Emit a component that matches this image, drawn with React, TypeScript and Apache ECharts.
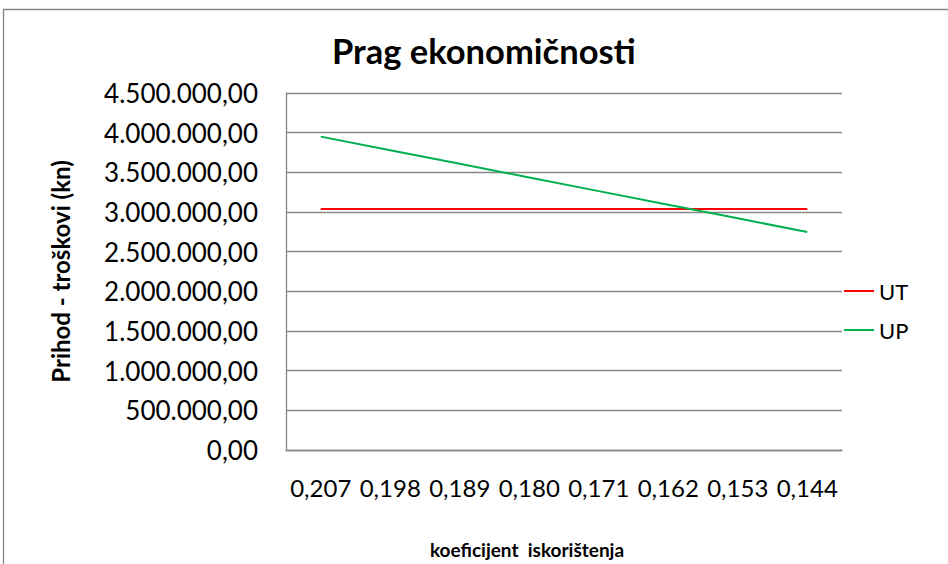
import React, { useEffect, useRef } from "react";
import * as echarts from "echarts";

const categories = ["0,207", "0,198", "0,189", "0,180", "0,171", "0,162", "0,153", "0,144"];
const utValues = [3037000, 3037000, 3037000, 3037000, 3037000, 3037000, 3037000, 3037000];
const upValues = [3950000, 3778000, 3607000, 3435000, 3263000, 3092000, 2920000, 2748000];
const seriesNames = ["UT", "UP"];
const chartTitle = "Prag ekonomičnosti";
const xAxisName = "koeficijent  iskorištenja";
const yAxisName = "Prihod - troškovi (kn)";

const FONT = "Lato, 'Noto Sans', sans-serif";

function formatHr(v: number): string {
  const fixed = v.toFixed(2);
  const [intPart, dec] = fixed.split(".");
  const withDots = intPart.replace(/\B(?=(\d{3})+(?!\d))/g, ".");
  return withDots + "," + dec;
}

export default function App() {
  const ref = useRef<HTMLDivElement>(null);
  useEffect(() => {
    document.body.style.margin = "0";
    if (!ref.current) return;
    const chart = echarts.init(ref.current, undefined, { renderer: "svg" });
    chart.setOption({
      animation: false,
      backgroundColor: "#ffffff",
      title: {
        text: chartTitle,
        left: 332,
        top: 33,
        padding: 0,
        textStyle: { fontFamily: FONT, fontWeight: "bold", fontSize: 34.5, color: "#000" },
      },
      graphic: [
        {
          type: "rect",
          shape: { x: 3.5, y: 9.5, width: 1200, height: 1200 },
          style: { fill: "none", stroke: "#868686", lineWidth: 1.3 },
          silent: true,
          z: -1,
        },
      ],
      legend: {
        orient: "vertical",
        left: 839,
        top: 275,
        itemWidth: 30,
        itemHeight: 14,
        itemGap: 17,
        icon: "path://M0,0 L30,0 L30,2 L0,2 Z",
        textStyle: { fontFamily: FONT, fontSize: 22, color: "#000" },
        data: seriesNames,
      },
      grid: { left: 286, right: 106, top: 93, bottom: 113 },
      xAxis: {
        type: "category",
        data: categories,
        boundaryGap: true,
        axisLine: { show: true, lineStyle: { color: "#868686", width: 1.3 } },
        axisTick: { show: false },
        axisLabel: { interval: 0, margin: 25, fontFamily: FONT, fontSize: 24, color: "#000" },
        name: xAxisName,
        nameLocation: "middle",
        nameGap: 90,
        nameTextStyle: { fontFamily: FONT, fontWeight: "bold", fontSize: 19, color: "#000", padding: [0, 74, 0, 0] },
      },
      yAxis: {
        type: "value",
        min: 0,
        max: 4500000,
        interval: 500000,
        axisLine: { show: true, lineStyle: { color: "#868686", width: 1.3 } },
        axisTick: { show: false },
        splitLine: { show: true, lineStyle: { color: "#868686", width: 1.3 } },
        axisLabel: { margin: 28, fontFamily: FONT, fontSize: 26, color: "#000", formatter: (v: number) => formatHr(v) },
        name: yAxisName,
        nameLocation: "middle",
        nameGap: 214,
        nameRotate: 90,
        nameTextStyle: { fontFamily: FONT, fontWeight: "bold", fontSize: 24, color: "#000" },
      },
      series: [
        {
          name: seriesNames[0],
          type: "line",
          data: utValues,
          symbol: "none",
          lineStyle: { color: "#ff0000", width: 2 },
          itemStyle: { color: "#ff0000" },
        },
        {
          name: seriesNames[1],
          type: "line",
          data: upValues,
          symbol: "none",
          lineStyle: { color: "#00b050", width: 2 },
          itemStyle: { color: "#00b050" },
        },
      ],
    });
    return () => chart.dispose();
  }, []);
  return <div ref={ref} style={{ width: 948, height: 564 }} />;
}
